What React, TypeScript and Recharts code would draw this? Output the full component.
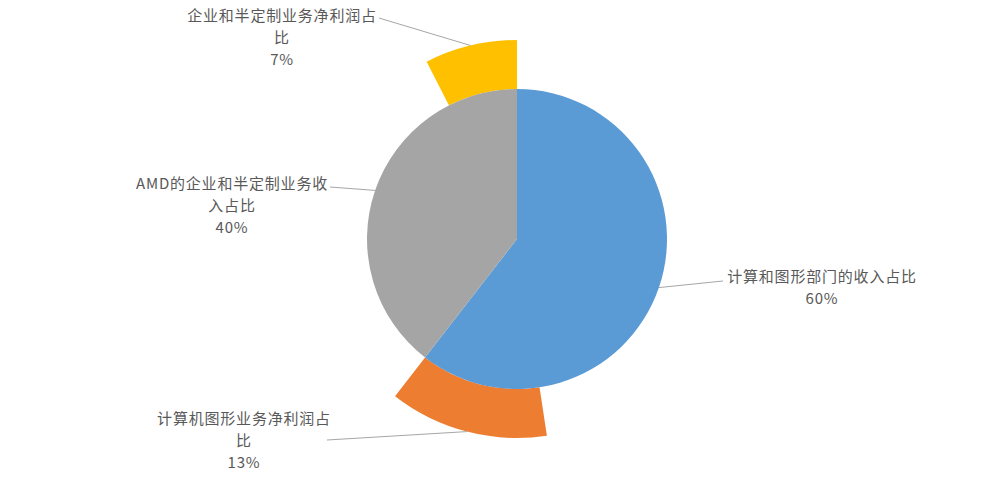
import { PieChart, Pie, Cell } from 'recharts';

// inner pie: revenue split
const revenueNames = ['计算和图形部门的收入占比', 'AMD的企业和半定制业务收入占比'];
const revenueValues = [60.5, 39.5];
const revenueLabels = ['60%', '40%'];
const revenueColors = ['#5b9bd5', '#a5a5a5'];

// outer ring: net profit share, sitting inside each revenue slice
const profitNames = ['计算机图形业务净利润占比', '企业和半定制业务净利润占比'];
const profitValues = [12.9, 7.5];
const profitLabels = ['13%', '7%'];
const profitColors = ['#ed7d31', '#ffc000'];

const innerData = revenueNames.map((name, i) => ({ name, value: revenueValues[i] }));

// orange ends where the blue slice ends; yellow ends where the grey slice ends
const outerData = [
  { name: 'gap1', value: revenueValues[0] - profitValues[0] },
  { name: profitNames[0], value: profitValues[0] },
  { name: 'gap2', value: revenueValues[1] - profitValues[1] },
  { name: profitNames[1], value: profitValues[1] },
];
const outerColors = ['transparent', profitColors[0], 'transparent', profitColors[1]];

// wrapped label text and where the leader line ends
const labelLayout: Record<string, { lines: string[]; x: number; y: number; lx: number; ly: number }> = {
  [revenueNames[0]]: { lines: ['计算和图形部门的收入占比', revenueLabels[0]], x: 822, y: 282, lx: 723, ly: 281 },
  [revenueNames[1]]: { lines: ['AMD的企业和半定制业务收', '入占比', revenueLabels[1]], x: 232, y: 189, lx: 330, ly: 187 },
  [profitNames[0]]: { lines: ['计算机图形业务净利润占', '比', profitLabels[0]], x: 244, y: 424, lx: 327, ly: 440 },
  [profitNames[1]]: { lines: ['企业和半定制业务净利润占', '比', profitLabels[1]], x: 282, y: 21, lx: 379, ly: 18 },
};

const RADIAN = Math.PI / 180;

const renderLabel = (props: any) => {
  const { cx, cy, midAngle, outerRadius, name } = props;
  const layout = labelLayout[name];
  if (!layout) return null;
  const sx = cx + outerRadius * Math.cos(-midAngle * RADIAN);
  const sy = cy + outerRadius * Math.sin(-midAngle * RADIAN);
  return (
    <g>
      <line x1={sx} y1={sy} x2={layout.lx} y2={layout.ly} stroke="#a6a6a6" strokeWidth={1} />
      <text
        x={layout.x}
        y={layout.y}
        textAnchor="middle"
        fill="#595959"
        fontSize={15}
        letterSpacing={0.8}
        fontFamily="'Noto Sans CJK SC', 'Noto Sans', sans-serif"
      >
        {layout.lines.map((line, i) => (
          <tspan key={i} x={layout.x} dy={i === 0 ? 0 : 22}>
            {line}
          </tspan>
        ))}
      </text>
    </g>
  );
};

export default function App() {
  return (
    <div style={{ position: 'fixed', left: 0, top: 0, width: 1000, height: 485, background: '#ffffff' }}>
      <PieChart width={1000} height={485} margin={{ top: 0, right: 0, bottom: 0, left: 0 }}>
        <Pie
          data={outerData}
          dataKey="value"
          cx={517}
          cy={239}
          innerRadius={150}
          outerRadius={199}
          startAngle={90}
          endAngle={-270}
          stroke="none"
          label={renderLabel}
          labelLine={false}
          isAnimationActive={false}
        >
          {outerData.map((d, i) => (
            <Cell key={d.name} fill={outerColors[i]} />
          ))}
        </Pie>
        <Pie
          data={innerData}
          dataKey="value"
          cx={517}
          cy={239}
          outerRadius={150}
          startAngle={90}
          endAngle={-270}
          stroke="none"
          label={renderLabel}
          labelLine={false}
          isAnimationActive={false}
        >
          {innerData.map((d, i) => (
            <Cell key={d.name} fill={revenueColors[i]} />
          ))}
        </Pie>
      </PieChart>
    </div>
  );
}
